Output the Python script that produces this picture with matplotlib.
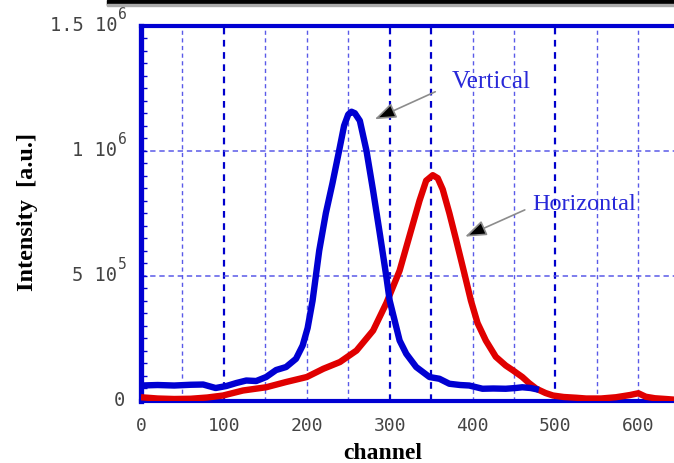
import numpy as np
import matplotlib
matplotlib.use("Agg")
import matplotlib.pyplot as plt
from matplotlib.patches import Rectangle
from matplotlib.ticker import FixedLocator, MultipleLocator, NullFormatter

# Beam profile data: intensity per channel
vert_ch = [0, 20, 40, 60, 75, 90, 103, 115, 127, 139, 151, 163, 175, 187, 195,
           201, 207, 215, 223, 231, 239, 245, 250, 254, 258, 264, 272, 280, 288,
           296, 300, 306, 312, 320, 332, 348, 360, 372, 385, 396, 412, 425, 440,
           452, 460, 470, 480]
vert_int = [6.0e4, 6.2e4, 6.0e4, 6.3e4, 6.4e4, 5.0e4, 5.8e4, 7.0e4, 8.0e4, 7.8e4,
            9.4e4, 1.22e5, 1.34e5, 1.67e5, 2.2e5, 2.9e5, 4.0e5, 6.0e5, 7.5e5,
            8.7e5, 1.0e6, 1.10e6, 1.145e6, 1.156e6, 1.15e6, 1.12e6, 1.0e6, 8.4e5,
            6.7e5, 4.95e5, 4.0e5, 3.2e5, 2.4e5, 1.87e5, 1.34e5, 9.4e4, 8.7e4,
            6.7e4, 6.2e4, 6.0e4, 4.7e4, 4.8e4, 4.7e4, 5.0e4, 5.3e4, 5.0e4, 4.3e4]

horiz_ch = [0, 20, 40, 60, 80, 99, 123, 151, 175, 200, 220, 240, 260, 280, 296,
            312, 324, 336, 344, 352, 358, 364, 372, 380, 390, 398, 406, 416, 428,
            440, 449, 460, 468, 477, 488, 497, 510, 525, 537, 555, 573, 590, 600,
            609, 620, 633, 645]
horiz_int = [1.3e4, 8e3, 6e3, 7e3, 1.2e4, 2.0e4, 4.0e4, 5.3e4, 7.4e4, 9.4e4,
             1.27e5, 1.54e5, 2.0e5, 2.8e5, 3.9e5, 5.2e5, 6.6e5, 8.0e5, 8.8e5,
             9.02e5, 8.9e5, 8.45e5, 7.5e5, 6.45e5, 5.1e5, 4.0e5, 3.1e5, 2.4e5,
             1.75e5, 1.4e5, 1.2e5, 9.4e4, 7.0e4, 4.7e4, 3.0e4, 2.0e4, 1.4e4,
             1.1e4, 8e3, 8e3, 1.3e4, 2.2e4, 2.9e4, 1.5e4, 9e3, 6e3, 3e3]

x_ticks = [0, 100, 200, 300, 400, 500, 600]
y_ticks = [0, 5e5, 1e6, 1.5e6]
y_mantissas = ["0", "5", "1", "1.5"]
y_exponents = ["", "5", "6", "6"]

BLUE = "#0000d2"
RED = "#e00000"
LABEL_GRAY = "#444444"
PT = 0.72  # points per pixel at 100 dpi

W, H = 674, 463
fig = plt.figure(figsize=(W / 100, H / 100), dpi=100)
ax = fig.add_axes([141 / W, (H - 400.5) / H, (W - 141) / W, (400.5 - 25.8) / H])

ax.set_xlim(0, 643)
ax.set_ylim(0, 1.5e6)

# dashed grid every 50 channels
for gx in np.arange(50, 643, 50):
    strong = gx in (100, 300, 350, 500)
    ax.axvline(gx, color="#0000cc" if strong else "#5a5ae8",
               lw=1.6 if strong else 1.0, ls=(0, (3, 2.5)), zorder=1)
for gy in (5e5, 1e6):
    ax.axhline(gy, color="#5a5ae8", lw=1.1, ls=(0, (3.5, 2.5)), zorder=1)

# profiles
ax.plot(horiz_ch, horiz_int, color=RED, lw=4.6, zorder=3,
        solid_joinstyle="round", solid_capstyle="butt")
ax.plot(vert_ch, vert_int, color=BLUE, lw=4.6, zorder=4,
        solid_joinstyle="round", solid_capstyle="butt")

# spines
for side in ("left", "top", "bottom"):
    ax.spines[side].set_color(BLUE)
ax.spines["left"].set_linewidth(3.8)
ax.spines["top"].set_linewidth(3.0)
ax.spines["bottom"].set_linewidth(3.0)
ax.spines["right"].set_visible(False)

mono = "DejaVu Sans Mono"
ax.xaxis.set_major_locator(FixedLocator(x_ticks))
ax.set_xticklabels([str(v) for v in x_ticks], fontfamily=mono, fontsize=13,
                   color=LABEL_GRAY)
ax.tick_params(axis="x", length=0, pad=12)

ax.yaxis.set_major_locator(FixedLocator(y_ticks))
ax.yaxis.set_minor_locator(MultipleLocator(5e4))
ax.yaxis.set_major_formatter(NullFormatter())
ax.tick_params(axis="y", which="both", direction="in", color=BLUE, width=1.0,
               length=4)

# y tick labels written as "m 10" with a raised exponent
for val, man, exp in zip(y_ticks, y_mantissas, y_exponents):
    if exp:
        ax.annotate(f"{man} 10", xy=(0, val), xycoords=("axes fraction", "data"),
                    xytext=(-24 * PT, 0), textcoords="offset points",
                    ha="right", va="center", family=mono, fontsize=13.5,
                    color=LABEL_GRAY)
        ax.annotate(exp, xy=(0, val), xycoords=("axes fraction", "data"),
                    xytext=(-23 * PT, 11 * PT), textcoords="offset points",
                    ha="left", va="center", family=mono, fontsize=10.5,
                    color=LABEL_GRAY)
    else:
        ax.annotate(man, xy=(0, val), xycoords=("axes fraction", "data"),
                    xytext=(-16 * PT, 0), textcoords="offset points",
                    ha="right", va="center", family=mono, fontsize=13.5,
                    color=LABEL_GRAY)

# axis titles
fig.text(383 / W, 4 / H, "channel", ha="center", va="baseline",
         family="Liberation Serif", weight="bold", fontsize=17)
fig.text(28 / W, 1 - 212 / H, "Intensity  [a.u.]", ha="center", va="center",
         rotation=90, family="Liberation Serif", weight="bold", fontsize=17.5)

# labels with arrows
arrow_kw = dict(arrowstyle="-|>,head_length=0.65,head_width=0.24",
                mutation_scale=20, ec="#8c8c8c", fc="black", lw=1.2,
                shrinkA=0, shrinkB=0)
ax.annotate("", xy=(282, 1.126e6), xytext=(355, 1.236e6), arrowprops=arrow_kw,
            zorder=6)
ax.annotate("", xy=(391, 6.56e5), xytext=(463, 7.63e5), arrowprops=arrow_kw,
            zorder=6)
ax.text(375, 1.251e6, "Vertical", family="Liberation Serif", fontsize=18.3,
        color="#2828d8", ha="left", va="baseline", zorder=6)
ax.text(471.5, 7.63e5, "Horizontal", family="Liberation Serif", fontsize=17.5,
        color="#2828d8", ha="left", va="baseline", zorder=6)

# dark strip along the top edge
fig.patches.append(Rectangle((107 / W, 1 - 4.5 / H), 1, 4.5 / H,
                             transform=fig.transFigure, color="black", zorder=10))
fig.patches.append(Rectangle((107 / W, 1 - 5.5 / H), 1, 1 / H,
                             transform=fig.transFigure, color="#aaaaaa", zorder=10))

fig.savefig("out.png", dpi=100)
